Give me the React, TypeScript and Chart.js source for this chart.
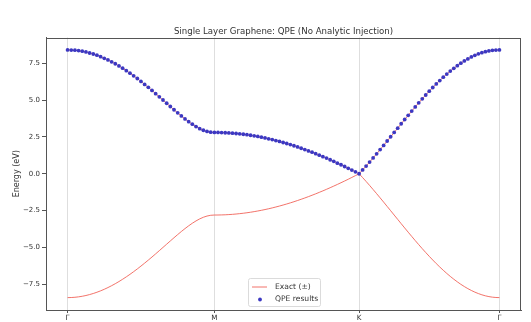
import React, { useEffect, useRef } from 'react';
import { Chart, registerables } from 'chart.js';

Chart.register(...registerables);

const chartTitle = 'Single Layer Graphene: QPE (No Analytic Injection)';
const yAxisLabel = 'Energy (eV)';
const kPointLabels = ['Γ', 'M', 'K', 'Γ'];
// path coordinate of the high-symmetry points
const kPointPositions = [0, 1.0, 1.986, 2.942];
const pointsPerSegment = 40;
const yTickValues = [-7.5, -5, -2.5, 0, 2.5, 5, 7.5];
const legendLabels = ['Exact (±)', 'QPE results'];

// exact upper band (eV), path Γ → M → K → Γ, 121 k-points
const exactUpper = [
  8.400, 8.394, 8.377, 8.348, 8.308, 8.257, 8.194, 8.120, 8.036, 7.940,
  7.834, 7.718, 7.592, 7.456, 7.310, 7.155, 6.992, 6.821, 6.641, 6.455,
  6.261, 6.061, 5.856, 5.646, 5.432, 5.215, 4.996, 4.776, 4.557, 4.340,
  4.126, 3.918, 3.719, 3.530, 3.355, 3.198, 3.062, 2.951, 2.868, 2.817,
  2.800, 2.798, 2.792, 2.783, 2.769, 2.752, 2.731, 2.706, 2.678, 2.645,
  2.609, 2.569, 2.526, 2.479, 2.428, 2.374, 2.316, 2.254, 2.190, 2.121,
  2.050, 1.975, 1.897, 1.815, 1.730, 1.643, 1.552, 1.458, 1.362, 1.262,
  1.160, 1.055, 0.947, 0.837, 0.724, 0.609, 0.492, 0.372, 0.250, 0.126,
  0.000, 0.258, 0.522, 0.793, 1.070, 1.351, 1.636, 1.924, 2.215, 2.507,
  2.800, 3.093, 3.385, 3.676, 3.964, 4.249, 4.530, 4.807, 5.078, 5.342,
  5.600, 5.850, 6.092, 6.324, 6.547, 6.760, 6.962, 7.152, 7.330, 7.497,
  7.650, 7.790, 7.916, 8.028, 8.126, 8.209, 8.278, 8.331, 8.369, 8.392,
  8.400,
];

// exact lower band (eV)
const exactLower = [
  -8.400, -8.394, -8.377, -8.348, -8.308, -8.257, -8.194, -8.120, -8.036, -7.940,
  -7.834, -7.718, -7.592, -7.456, -7.310, -7.155, -6.992, -6.821, -6.641, -6.455,
  -6.261, -6.061, -5.856, -5.646, -5.432, -5.215, -4.996, -4.776, -4.557, -4.340,
  -4.126, -3.918, -3.719, -3.530, -3.355, -3.198, -3.062, -2.951, -2.868, -2.817,
  -2.800, -2.798, -2.792, -2.783, -2.769, -2.752, -2.731, -2.706, -2.678, -2.645,
  -2.609, -2.569, -2.526, -2.479, -2.428, -2.374, -2.316, -2.254, -2.190, -2.121,
  -2.050, -1.975, -1.897, -1.815, -1.730, -1.643, -1.552, -1.458, -1.362, -1.262,
  -1.160, -1.055, -0.947, -0.837, -0.724, -0.609, -0.492, -0.372, -0.250, -0.126,
  0.000, -0.258, -0.522, -0.793, -1.070, -1.351, -1.636, -1.924, -2.215, -2.507,
  -2.800, -3.093, -3.385, -3.676, -3.964, -4.249, -4.530, -4.807, -5.078, -5.342,
  -5.600, -5.850, -6.092, -6.324, -6.547, -6.760, -6.962, -7.152, -7.330, -7.497,
  -7.650, -7.790, -7.916, -8.028, -8.126, -8.209, -8.278, -8.331, -8.369, -8.392,
  -8.400,
];

// QPE estimated energies (eV)
const qpeEnergies = [
  8.40, 8.39, 8.38, 8.35, 8.31, 8.26, 8.19, 8.12, 8.04, 7.94,
  7.83, 7.72, 7.59, 7.46, 7.31, 7.16, 6.99, 6.82, 6.64, 6.46,
  6.26, 6.06, 5.86, 5.65, 5.43, 5.22, 5.00, 4.78, 4.56, 4.34,
  4.13, 3.92, 3.72, 3.53, 3.36, 3.20, 3.06, 2.95, 2.87, 2.82,
  2.80, 2.80, 2.79, 2.78, 2.77, 2.75, 2.73, 2.71, 2.68, 2.65,
  2.61, 2.57, 2.53, 2.48, 2.43, 2.37, 2.32, 2.25, 2.19, 2.12,
  2.05, 1.98, 1.90, 1.82, 1.73, 1.64, 1.55, 1.46, 1.36, 1.26,
  1.16, 1.06, 0.95, 0.84, 0.72, 0.61, 0.49, 0.37, 0.25, 0.13,
  0.00, 0.26, 0.52, 0.79, 1.07, 1.35, 1.64, 1.92, 2.22, 2.51,
  2.80, 3.09, 3.39, 3.68, 3.96, 4.25, 4.53, 4.81, 5.08, 5.34,
  5.60, 5.85, 6.09, 6.32, 6.55, 6.76, 6.96, 7.15, 7.33, 7.50,
  7.65, 7.79, 7.92, 8.03, 8.13, 8.21, 8.28, 8.33, 8.37, 8.39,
  8.40,
];

// path coordinate of k-point i: evenly spaced inside each segment
const kPathX = (i: number) => {
  const seg = Math.min(Math.floor(i / pointsPerSegment), kPointPositions.length - 2);
  const f = (i - seg * pointsPerSegment) / pointsPerSegment;
  return kPointPositions[seg] + (kPointPositions[seg + 1] - kPointPositions[seg]) * f;
};

const FONT = '"DejaVu Sans", sans-serif';
const TEXT = '#333';
const AXIS = '#555';
const EXACT_COLOR = 'rgba(240, 90, 80, 0.85)';
const QPE_COLOR = '#3c38c2';

const xSpan = kPointPositions[kPointPositions.length - 1];
const xMargin = xSpan * 0.05;

const framePlugin = {
  id: 'frame',
  afterDatasetsDraw(chart: any) {
    const { ctx, chartArea: a } = chart;
    ctx.save();
    ctx.strokeStyle = AXIS;
    ctx.lineWidth = 1;
    ctx.strokeRect(Math.round(a.left) + 0.5, Math.round(a.top) + 0.5,
      Math.round(a.right - a.left) - 1, Math.round(a.bottom - a.top) - 1);
    ctx.restore();
  },
};

// title centred over the plot area (as matplotlib does)
const axesTitlePlugin = {
  id: 'axesTitle',
  afterDraw(chart: any) {
    const { ctx, chartArea: a } = chart;
    ctx.save();
    ctx.fillStyle = TEXT;
    ctx.font = `8.6px ${FONT}`;
    ctx.textAlign = 'center';
    ctx.textBaseline = 'alphabetic';
    ctx.fillText(chartTitle, (a.left + a.right) / 2, a.top - 3.5);
    ctx.restore();
  },
};

const legendPlugin = {
  id: 'bandLegend',
  afterDraw(chart: any) {
    const { ctx, chartArea: a } = chart;
    const cx = (a.left + a.right) / 2;
    const w = 72;
    const h = 28;
    const x0 = cx - 35.5;
    const y0 = a.bottom - 4 - h;
    ctx.save();
    ctx.fillStyle = 'rgba(255,255,255,0.8)';
    ctx.strokeStyle = 'rgba(215,215,215,0.9)';
    ctx.lineWidth = 1;
    ctx.beginPath();
    if (ctx.roundRect) ctx.roundRect(Math.round(x0) + 0.5, Math.round(y0) + 0.5, w, h, 2);
    else ctx.rect(Math.round(x0) + 0.5, Math.round(y0) + 0.5, w, h);
    ctx.fill();
    ctx.stroke();
    const row1 = y0 + 9;
    const row2 = y0 + 21.5;
    ctx.strokeStyle = EXACT_COLOR;
    ctx.beginPath();
    ctx.moveTo(x0 + 4, row1);
    ctx.lineTo(x0 + 19, row1);
    ctx.stroke();
    ctx.fillStyle = QPE_COLOR;
    ctx.beginPath();
    ctx.arc(x0 + 12, row2, 1.9, 0, Math.PI * 2);
    ctx.fill();
    ctx.fillStyle = TEXT;
    ctx.font = `7.6px ${FONT}`;
    ctx.textBaseline = 'middle';
    ctx.textAlign = 'left';
    ctx.fillText(legendLabels[0], x0 + 27, row1);
    ctx.fillText(legendLabels[1], x0 + 27, row2);
    ctx.restore();
  },
};

export default function App() {
  const ref = useRef<HTMLCanvasElement | null>(null);

  useEffect(() => {
    if (!ref.current) return;
    const chart = new Chart(ref.current, {
      type: 'scatter',
      data: {
        datasets: [
          {
            type: 'scatter',
            label: legendLabels[1],
            data: qpeEnergies.map((y, i) => ({ x: kPathX(i), y })),
            backgroundColor: QPE_COLOR,
            pointBackgroundColor: QPE_COLOR,
            pointBorderWidth: 0,
            pointRadius: 1.9,
            order: 0,
          } as any,
          {
            type: 'line',
            label: legendLabels[0],
            data: exactUpper.map((y, i) => ({ x: kPathX(i), y })),
            borderColor: EXACT_COLOR,
            borderWidth: 1,
            pointRadius: 0,
            fill: false,
            tension: 0,
            order: 1,
          } as any,
          {
            type: 'line',
            label: legendLabels[0] + ' lower',
            data: exactLower.map((y, i) => ({ x: kPathX(i), y })),
            borderColor: EXACT_COLOR,
            borderWidth: 1,
            pointRadius: 0,
            fill: false,
            tension: 0,
            order: 1,
          } as any,
        ],
      },
      options: {
        animation: false,
        responsive: false,
        devicePixelRatio: 1,
        layout: { padding: { left: 0, right: 10, top: 37.5, bottom: 0 } },
        plugins: {
          legend: { display: false },
          tooltip: { enabled: false },
          title: { display: false },
        },
        scales: {
          x: {
            type: 'linear',
            min: -xMargin,
            max: xSpan + xMargin,
            afterBuildTicks: (s: any) => {
              s.ticks = kPointPositions.map((v) => ({ value: v }));
            },
            afterFit: (s: any) => {
              s.height = 12;
            },
            ticks: {
              autoSkip: false,
              maxRotation: 0,
              padding: 1,
              color: TEXT,
              font: { family: FONT, size: 7.2 },
              callback: (v: any) => kPointLabels[kPointPositions.indexOf(Number(v))],
            },
            grid: {
              color: 'rgba(0,0,0,0.13)',
              tickColor: AXIS,
              tickLength: 3,
              lineWidth: 1,
            },
            border: { color: AXIS },
          },
          y: {
            type: 'linear',
            min: -9.24,
            max: 9.24,
            afterBuildTicks: (s: any) => {
              s.ticks = yTickValues.map((v) => ({ value: v }));
            },
            afterFit: (s: any) => {
              s.width = 46;
            },
            ticks: {
              padding: 2,
              color: TEXT,
              font: { family: FONT, size: 7.0 },
              callback: (v: any) => {
                const n = Number(v);
                const t = Math.abs(n).toFixed(1);
                return n < 0 ? '\u2212' + t : t;
              },
            },
            grid: {
              drawOnChartArea: false,
              tickColor: AXIS,
              tickLength: 4,
            },
            border: { color: AXIS },
            title: {
              display: true,
              text: yAxisLabel,
              color: TEXT,
              font: { family: FONT, size: 8 },
              padding: { top: 11.7, bottom: 0 },
            },
          },
        },
      } as any,
      plugins: [framePlugin, axesTitlePlugin, legendPlugin],
    });
    return () => chart.destroy();
  }, []);

  return (
    <div style={{ position: 'fixed', left: 0, top: 0, width: 531, height: 322, background: '#fff' }}>
      <canvas ref={ref} width={531} height={322} style={{ display: 'block', width: 531, height: 322 }} />
    </div>
  );
}
